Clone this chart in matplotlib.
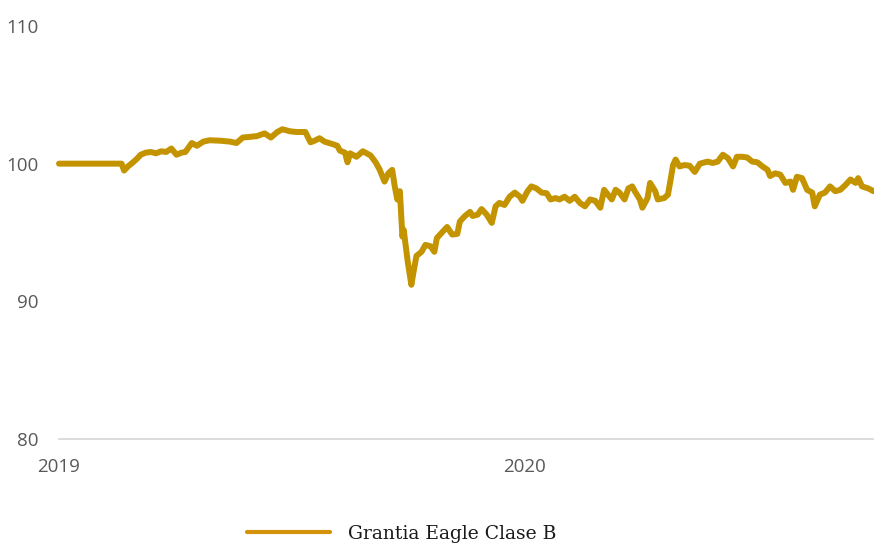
import matplotlib
matplotlib.use("Agg")
import matplotlib.pyplot as plt
import matplotlib.dates as mdates
import pandas as pd

series_name = "Grantia Eagle Clase B"

dates = [
    "2019-01-01", "2019-01-25", "2019-02-19", "2019-02-21", "2019-02-24", "2019-02-28",
    "2019-03-03", "2019-03-06", "2019-03-10", "2019-03-14", "2019-03-18", "2019-03-22",
    "2019-03-26", "2019-03-30", "2019-04-03", "2019-04-07", "2019-04-10", "2019-04-15",
    "2019-04-19", "2019-04-24", "2019-04-29", "2019-05-07", "2019-05-15", "2019-05-20",
    "2019-05-25", "2019-05-31", "2019-06-05", "2019-06-11", "2019-06-16", "2019-06-21",
    "2019-06-25", "2019-07-01", "2019-07-06", "2019-07-13", "2019-07-17", "2019-07-21",
    "2019-07-24", "2019-07-28", "2019-08-04", "2019-08-07", "2019-08-09", "2019-08-13",
    "2019-08-15", "2019-08-17", "2019-08-22", "2019-08-27", "2019-09-02", "2019-09-06",
    "2019-09-09", "2019-09-13", "2019-09-16", "2019-09-19", "2019-09-21", "2019-09-23",
    "2019-09-25", "2019-09-27", "2019-09-28", "2019-10-01", "2019-10-04", "2019-10-06",
    "2019-10-08", "2019-10-12", "2019-10-15", "2019-10-19", "2019-10-22", "2019-10-24",
    "2019-10-28", "2019-11-01", "2019-11-05", "2019-11-09", "2019-11-11", "2019-11-15",
    "2019-11-19", "2019-11-21", "2019-11-25", "2019-11-28", "2019-12-02", "2019-12-06",
    "2019-12-09", "2019-12-12", "2019-12-16", "2019-12-20", "2019-12-24", "2019-12-28",
    "2019-12-30", "2020-01-03", "2020-01-06", "2020-01-10", "2020-01-14", "2020-01-18",
    "2020-01-21", "2020-01-25", "2020-01-28", "2020-02-01", "2020-02-05", "2020-02-09",
    "2020-02-13", "2020-02-17", "2020-02-21", "2020-02-25", "2020-02-29", "2020-03-03",
    "2020-03-06", "2020-03-09", "2020-03-12", "2020-03-15", "2020-03-19", "2020-03-22",
    "2020-03-25", "2020-03-27", "2020-03-31", "2020-04-02", "2020-04-06", "2020-04-08",
    "2020-04-12", "2020-04-14", "2020-04-19", "2020-04-22", "2020-04-24", "2020-04-26",
    "2020-04-28", "2020-05-01", "2020-05-05", "2020-05-09", "2020-05-13", "2020-05-17",
    "2020-05-23", "2020-05-27", "2020-05-31", "2020-06-04", "2020-06-08", "2020-06-12",
    "2020-06-15", "2020-06-19", "2020-06-23", "2020-06-27", "2020-07-01", "2020-07-05",
    "2020-07-09", "2020-07-11", "2020-07-15", "2020-07-19", "2020-07-23", "2020-07-27",
    "2020-07-29", "2020-08-01", "2020-08-05", "2020-08-09", "2020-08-13", "2020-08-15",
    "2020-08-19", "2020-08-23", "2020-08-27", "2020-08-31", "2020-09-04", "2020-09-08",
    "2020-09-12", "2020-09-16", "2020-09-18", "2020-09-21", "2020-09-26", "2020-09-30",
]

values = [
    100.0, 100.0, 100.0, 99.5, 99.8, 100.1,
    100.35, 100.65, 100.8, 100.85, 100.75, 100.9,
    100.85, 101.1, 100.65, 100.8, 100.85, 101.5,
    101.3, 101.6, 101.7, 101.67, 101.6, 101.5,
    101.9, 101.95, 102.0, 102.2, 101.9, 102.3,
    102.5, 102.35, 102.3, 102.3, 101.55, 101.7,
    101.85, 101.6, 101.4, 101.3, 100.95, 100.8,
    100.1, 100.75, 100.5, 100.9, 100.6, 100.1,
    99.6, 98.7, 99.3, 99.55, 98.35, 97.4,
    98.0, 94.7, 95.2, 93.0, 91.2, 92.3,
    93.3, 93.6, 94.1, 94.0, 93.6, 94.6,
    95.0, 95.4, 94.85, 94.9, 95.8, 96.2,
    96.5, 96.2, 96.3, 96.7, 96.3, 95.7,
    96.9, 97.15, 97.0, 97.6, 97.9, 97.6,
    97.3, 98.0, 98.35, 98.2, 97.9, 97.85,
    97.4, 97.5, 97.4, 97.6, 97.3, 97.6,
    97.15, 96.9, 97.4, 97.3, 96.8, 98.1,
    97.75, 97.4, 98.1, 97.9, 97.4, 98.2,
    98.35, 98.0, 97.4, 96.8, 97.5, 98.6,
    98.0, 97.4, 97.5, 97.75, 98.8, 99.9,
    100.3, 99.8, 99.9, 99.85, 99.4, 100.0,
    100.15, 100.05, 100.15, 100.65, 100.4, 99.8,
    100.5, 100.5, 100.45, 100.15, 100.1, 99.8,
    99.55, 99.1, 99.3, 99.2, 98.6, 98.7,
    98.1, 99.05, 98.95, 98.1, 97.9, 96.9,
    97.75, 97.9, 98.35, 98.0, 98.1, 98.45,
    98.85, 98.6, 98.95, 98.35, 98.2, 98.0,
]

y_ticks = [80, 90, 100, 110]
x_tick_dates = ["2019-01-01", "2020-01-01"]
x_tick_labels = ["2019", "2020"]

W, H = 874, 545
fig = plt.figure(figsize=(W / 100, H / 100), dpi=100)
ax = fig.add_axes([59 / W, 1 - 439 / H, (W - 59) / W, (439 - 26) / H])

x = pd.to_datetime(dates)
line, = ax.plot(x, values, color="#C39400", linewidth=4.3,
                solid_joinstyle="round", solid_capstyle="round",
                label=series_name, clip_on=False)

ax.set_ylim(80, 110)
ax.set_yticks(y_ticks)
ax.set_yticklabels([str(v) for v in y_ticks])
start = pd.Timestamp("2019-01-01")
ax.set_xlim(start, start + pd.Timedelta(days=638.4))
ax.set_xticks(pd.to_datetime(x_tick_dates))
ax.set_xticklabels(x_tick_labels)

for s in ["top", "right", "left"]:
    ax.spines[s].set_visible(False)
ax.spines["bottom"].set_color("#D9D9D9")
ax.spines["bottom"].set_linewidth(1.3)
ax.spines["bottom"].set_zorder(0)
ax.tick_params(axis="both", length=0, labelsize=13.5, labelcolor="#595959")
ax.tick_params(axis="y", pad=15)
ax.tick_params(axis="x", pad=14)
for lab in ax.get_xticklabels() + ax.get_yticklabels():
    lab.set_fontfamily("Open Sans")

leg = fig.legend(handles=[line], labels=[series_name], loc="center left",
                 bbox_to_anchor=(247 / W, 1 - 534 / H), frameon=False,
                 borderpad=0, borderaxespad=0, handlelength=4.4,
                 handletextpad=1.0,
                 prop={"family": "DejaVu Serif", "size": 13.5})
for h in leg.get_lines():
    h.set_color("#D4920A")
    h.set_linewidth(3)
for t in leg.get_texts():
    t.set_color("#1a1a1a")

fig.savefig("out.png", dpi=100)
